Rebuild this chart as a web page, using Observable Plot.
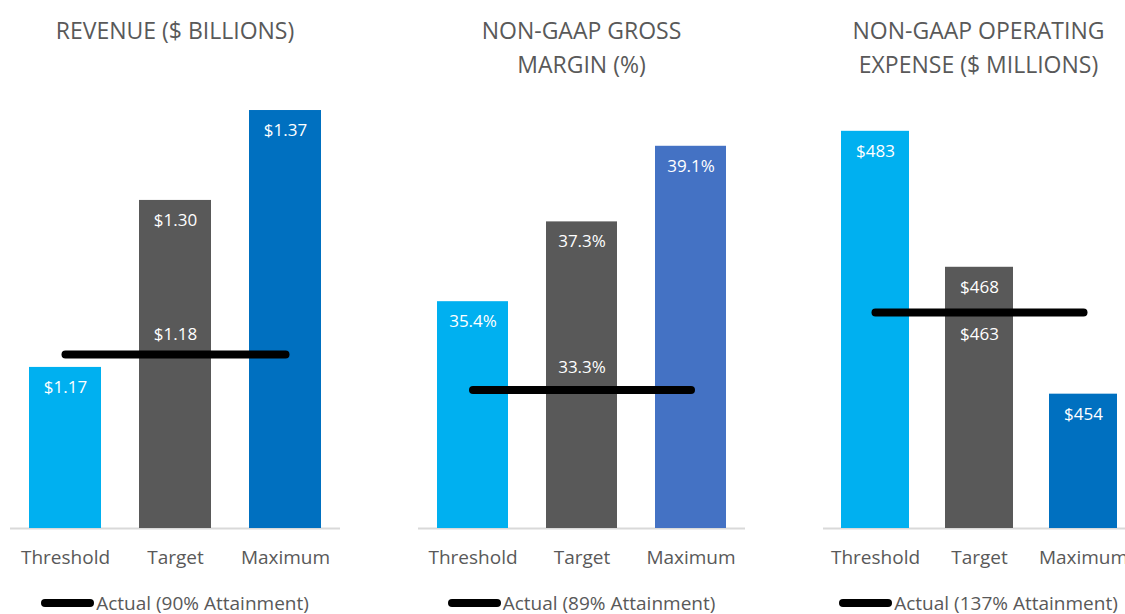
<!DOCTYPE html>
<html>
<head>
<meta charset="utf-8">
<script src="https://cdn.jsdelivr.net/npm/d3@7"></script>
<script src="https://cdn.jsdelivr.net/npm/@observablehq/plot@0.6"></script>
<style>
  html, body { margin: 0; padding: 0; background: #fff; }
  body { width: 1125px; height: 614px; overflow: hidden; position: relative; font-family: "Open Sans", sans-serif; color: #595959; }
  .panel { position: absolute; top: 0; height: 614px; }
  .title { position: absolute; top: 13px; left: -40px; right: -40px; text-align: center; font-size: 23px; line-height: 34px; color: #595959; }
  .chart { position: absolute; top: 80px; left: 0; }
  .legend { position: absolute; top: 591px; left: -40px; right: -40px; display: flex; justify-content: center; align-items: center; font-size: 19px; line-height: 24px; color: #595959; white-space: nowrap; }
  .swatch { width: 53px; height: 8px; border-radius: 4px; background: #000; margin-right: 2px; }
</style>
</head>
<body>
<script>
// ---- data ----
const categories = ["Threshold", "Target", "Maximum"];

const revenueTitle = ["REVENUE ($ BILLIONS)"];
const revenueValues = [1.17, 1.30, 1.37];
const revenueActual = 1.18;
const revenueLegend = "Actual (90% Attainment)";

const marginTitle = ["NON-GAAP GROSS", "MARGIN (%)"];
const marginValues = [35.4, 37.3, 39.1];
const marginActual = 33.3;
const marginLegend = "Actual (89% Attainment)";

const opexTitle = ["NON-GAAP OPERATING", "EXPENSE ($ MILLIONS)"];
const opexValues = [483, 468, 454];
const opexActual = 463;
const opexLegend = "Actual (137% Attainment)";

// ---- styling / layout ----
const panels = [
  {title: revenueTitle, values: revenueValues, actual: revenueActual, legend: revenueLegend,
   fmt: v => "$" + v.toFixed(2), domain: [1.0446, 1.3778], left: 0, width: 350, actualDy: -20,
   palette: ["#00B0F0", "#595959", "#0070C0"]},
  {title: marginTitle, values: marginValues, actual: marginActual, legend: marginLegend,
   fmt: v => v.toFixed(1) + "%", domain: [30.0, 40.19], left: 408, width: 347, actualDy: -22,
   palette: ["#00B0F0", "#595959", "#4472C4"]},
  {title: opexTitle, values: opexValues, actual: opexActual, legend: opexLegend,
   fmt: v => "$" + v.toFixed(0), domain: [439.18, 486.4], left: 813, width: 331, actualDy: 22,
   palette: ["#00B0F0", "#595959", "#0070C0"]}
];

for (const p of panels) {
  const div = document.createElement("div");
  div.className = "panel";
  div.style.left = p.left + "px";
  div.style.width = p.width + "px";
  document.body.appendChild(div);

  const t = document.createElement("div");
  t.className = "title";
  t.innerHTML = p.title.join("<br>");
  div.appendChild(t);

  const rows = categories.map((c, i) => ({category: c, value: p.values[i]}));
  const actualRows = [{category: categories[0], value: p.actual}, {category: categories[2], value: p.actual}];

  const chart = Plot.plot({
    width: p.width,
    height: 495,
    marginTop: 20,
    marginBottom: 47,
    marginLeft: 10,
    marginRight: 10,
    style: {fontFamily: "Open Sans, sans-serif", fontSize: "19px", color: "#595959", background: "transparent", overflow: "visible"},
    x: {domain: categories, paddingInner: 0.35, paddingOuter: 0.17, tickSize: 0, tickPadding: 22, label: null},
    y: {domain: p.domain, axis: null},
    color: {domain: categories, range: p.palette},
    marks: [
      Plot.ruleY([p.domain[0]], {stroke: "#D9D9D9", strokeWidth: 2}),
      Plot.barY(rows, {x: "category", y1: p.domain[0], y2: "value", fill: "category"}),
      Plot.text(rows, {x: "category", y: "value", text: d => p.fmt(d.value), dy: 20, fill: "white", fontSize: 17}),
      Plot.line(actualRows, {x: "category", y: "value", stroke: "black", strokeWidth: 8, strokeLinecap: "round"}),
      Plot.text([{category: categories[1], value: p.actual}], {x: "category", y: "value", text: d => p.fmt(d.value), dy: p.actualDy, fill: "white", fontSize: 17})
    ]
  });
  chart.classList.add("chart");
  div.appendChild(chart);

  const lg = document.createElement("div");
  lg.className = "legend";
  lg.innerHTML = '<span class="swatch"></span><span></span>';
  lg.lastChild.textContent = p.legend;
  div.appendChild(lg);
}
</script>
</body>
</html>
